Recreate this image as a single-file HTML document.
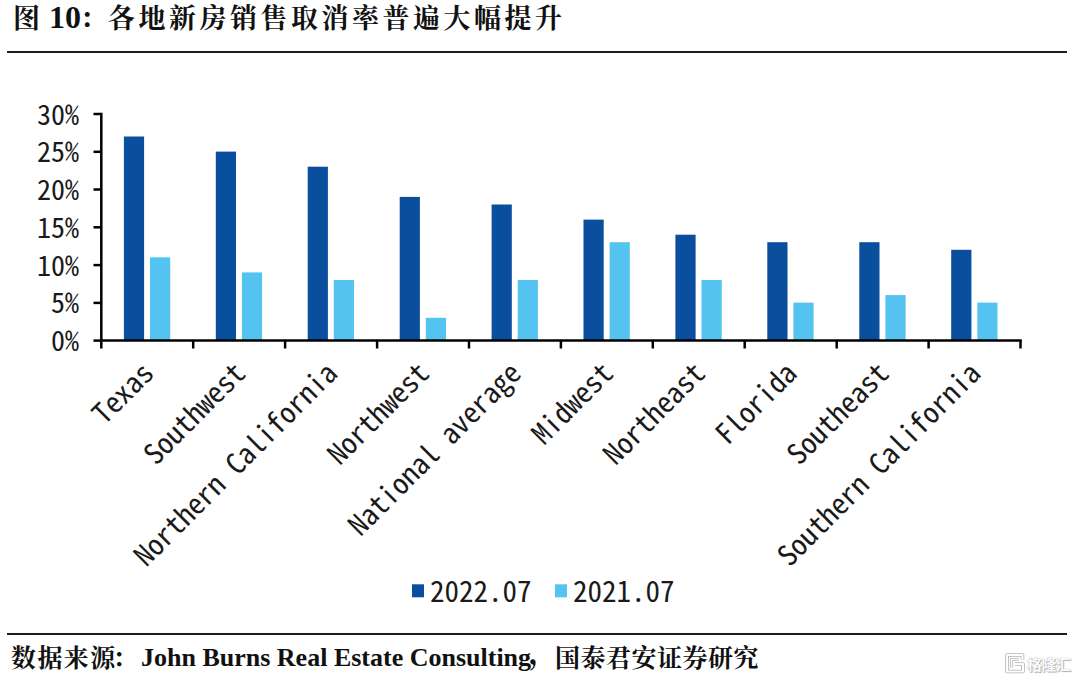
<!DOCTYPE html>
<html><head><meta charset="utf-8"><style>
html,body{margin:0;padding:0;background:#fff;}
body{width:1080px;height:680px;position:relative;overflow:hidden;}
.t{position:absolute;white-space:nowrap;color:#111;line-height:1;}
.cjk{font-family:"Noto Serif CJK SC",serif;font-weight:700;}
.lat{font-family:"Liberation Serif",serif;font-weight:bold;}
.rule{position:absolute;left:7px;width:1060px;height:2px;background:#1c1c1c;}
svg{position:absolute;left:0;top:0;}
.yl{font-size:28px;font-family:"Noto Sans Mono CJK SC","Liberation Mono",monospace;fill:#1a1a1a;}
.xl{font-size:28.7px;font-family:"Noto Sans Mono CJK SC","Liberation Mono",monospace;fill:#1a1a1a;}
.lg{font-size:29px;font-family:"Noto Sans Mono CJK SC","Liberation Mono",monospace;fill:#1a1a1a;}
.wm{position:absolute;left:1027px;top:655.5px;font:bold 15px/1 "Noto Sans CJK SC",sans-serif;color:#fdfdfd;text-shadow:0 0 1px #9a9a9a,1px 1px 1px #b0b0b0;white-space:nowrap;letter-spacing:-0.5px;}
.wmg{position:absolute;left:1004px;top:652px;}
</style></head><body>
<div class="t cjk" id="t1" style="left:13px;top:3px;font-size:27px;">图</div>
<div class="t lat" id="t2" style="left:49px;top:1px;font-size:32px;">10</div>
<div class="t cjk" id="t3" style="left:80px;top:3px;font-size:27px;">：</div>
<div class="t cjk" id="t4" style="left:108px;top:3px;font-size:27px;letter-spacing:3.5px;">各地新房销售取消率普遍大幅提升</div>
<div class="rule" style="top:51px"></div>
<svg width="1080" height="680" viewBox="0 0 1080 680">
<rect x="123.9" y="136.5" width="20.2" height="203.8" fill="#0A4E9E"/>
<rect x="150.0" y="257.3" width="20.2" height="83.0" fill="#55C3F0"/>
<rect x="215.8" y="151.6" width="20.2" height="188.8" fill="#0A4E9E"/>
<rect x="241.9" y="272.4" width="20.2" height="68.0" fill="#55C3F0"/>
<rect x="307.7" y="166.7" width="20.2" height="173.7" fill="#0A4E9E"/>
<rect x="333.8" y="280.0" width="20.2" height="60.4" fill="#55C3F0"/>
<rect x="399.7" y="196.9" width="20.2" height="143.4" fill="#0A4E9E"/>
<rect x="425.8" y="317.8" width="20.2" height="22.6" fill="#55C3F0"/>
<rect x="491.6" y="204.5" width="20.2" height="135.9" fill="#0A4E9E"/>
<rect x="517.7" y="280.0" width="20.2" height="60.4" fill="#55C3F0"/>
<rect x="583.5" y="219.6" width="20.2" height="120.8" fill="#0A4E9E"/>
<rect x="609.6" y="242.2" width="20.2" height="98.1" fill="#55C3F0"/>
<rect x="675.4" y="234.7" width="20.2" height="105.7" fill="#0A4E9E"/>
<rect x="701.5" y="280.0" width="20.2" height="60.4" fill="#55C3F0"/>
<rect x="767.3" y="242.2" width="20.2" height="98.1" fill="#0A4E9E"/>
<rect x="793.4" y="302.6" width="20.2" height="37.8" fill="#55C3F0"/>
<rect x="859.3" y="242.2" width="20.2" height="98.1" fill="#0A4E9E"/>
<rect x="885.4" y="295.1" width="20.2" height="45.3" fill="#55C3F0"/>
<rect x="951.2" y="249.8" width="20.2" height="90.6" fill="#0A4E9E"/>
<rect x="977.3" y="302.6" width="20.2" height="37.8" fill="#55C3F0"/>
<line x1="101.3" y1="112.8" x2="101.3" y2="348.5" stroke="#000" stroke-width="2.5"/>
<line x1="100" y1="340.6" x2="1021.7" y2="340.6" stroke="#000" stroke-width="2.5"/>
<line x1="93.5" y1="114.0" x2="101.3" y2="114.0" stroke="#000" stroke-width="2.5"/>
<line x1="93.5" y1="151.8" x2="101.3" y2="151.8" stroke="#000" stroke-width="2.5"/>
<line x1="93.5" y1="189.5" x2="101.3" y2="189.5" stroke="#000" stroke-width="2.5"/>
<line x1="93.5" y1="227.3" x2="101.3" y2="227.3" stroke="#000" stroke-width="2.5"/>
<line x1="93.5" y1="265.1" x2="101.3" y2="265.1" stroke="#000" stroke-width="2.5"/>
<line x1="93.5" y1="302.9" x2="101.3" y2="302.9" stroke="#000" stroke-width="2.5"/>
<line x1="93.5" y1="340.6" x2="101.3" y2="340.6" stroke="#000" stroke-width="2.5"/>
<line x1="193.2" y1="340" x2="193.2" y2="348.5" stroke="#000" stroke-width="2.5"/>
<line x1="285.1" y1="340" x2="285.1" y2="348.5" stroke="#000" stroke-width="2.5"/>
<line x1="377.1" y1="340" x2="377.1" y2="348.5" stroke="#000" stroke-width="2.5"/>
<line x1="469.0" y1="340" x2="469.0" y2="348.5" stroke="#000" stroke-width="2.5"/>
<line x1="560.9" y1="340" x2="560.9" y2="348.5" stroke="#000" stroke-width="2.5"/>
<line x1="652.8" y1="340" x2="652.8" y2="348.5" stroke="#000" stroke-width="2.5"/>
<line x1="744.7" y1="340" x2="744.7" y2="348.5" stroke="#000" stroke-width="2.5"/>
<line x1="836.7" y1="340" x2="836.7" y2="348.5" stroke="#000" stroke-width="2.5"/>
<line x1="928.6" y1="340" x2="928.6" y2="348.5" stroke="#000" stroke-width="2.5"/>
<line x1="1020.5" y1="340" x2="1020.5" y2="348.5" stroke="#000" stroke-width="2.5"/>
<text x="79" y="124.5" text-anchor="end" class="yl" textLength="42.00">30%</text>
<text x="79" y="162.3" text-anchor="end" class="yl" textLength="42.00">25%</text>
<text x="79" y="200.0" text-anchor="end" class="yl" textLength="42.00">20%</text>
<text x="79" y="237.8" text-anchor="end" class="yl" textLength="42.00">15%</text>
<text x="79" y="275.6" text-anchor="end" class="yl" textLength="42.00">10%</text>
<text x="79" y="313.4" text-anchor="end" class="yl" textLength="28.00">5%</text>
<text x="79" y="351.1" text-anchor="end" class="yl" textLength="28.00">0%</text>
<text transform="translate(155.3,375) rotate(-45)" text-anchor="end" class="xl" textLength="71.75">Texas</text>
<text transform="translate(247.2,375) rotate(-45)" text-anchor="end" class="xl" textLength="129.15">Southwest</text>
<text transform="translate(339.1,375) rotate(-45)" text-anchor="end" class="xl" textLength="272.65">Northern California</text>
<text transform="translate(431.0,375) rotate(-45)" text-anchor="end" class="xl" textLength="129.15">Northwest</text>
<text transform="translate(522.9,375) rotate(-45)" text-anchor="end" class="xl" textLength="229.60">National average</text>
<text transform="translate(614.9,375) rotate(-45)" text-anchor="end" class="xl" textLength="100.45">Midwest</text>
<text transform="translate(706.8,375) rotate(-45)" text-anchor="end" class="xl" textLength="129.15">Northeast</text>
<text transform="translate(798.7,375) rotate(-45)" text-anchor="end" class="xl" textLength="100.45">Florida</text>
<text transform="translate(890.6,375) rotate(-45)" text-anchor="end" class="xl" textLength="129.15">Southeast</text>
<text transform="translate(982.5,375) rotate(-45)" text-anchor="end" class="xl" textLength="272.65">Southern California</text>
<rect x="412" y="584.3" width="12" height="13" fill="#0A4E9E"/>
<text x="430" y="602" class="lg" textLength="101.50">2022.07</text>
<rect x="555" y="584.3" width="12" height="13" fill="#55C3F0"/>
<text x="573" y="602" class="lg" textLength="101.50">2021.07</text>
</svg>
<div class="rule" style="top:633px"></div>
<div class="t cjk" id="f1" style="left:11px;top:644px;font-size:25px;letter-spacing:1.4px;">数据来源</div>
<div class="t cjk" id="f1b" style="left:112.5px;top:644px;font-size:25px;">：</div>
<div class="t lat" id="f2" style="left:141px;top:645px;font-size:26px;">John Burns Real Estate Consulting</div>
<div class="t cjk" id="f3" style="left:528.5px;top:635px;font-size:30px;">，</div>
<div class="t cjk" id="f4" style="left:555px;top:644px;font-size:25px;letter-spacing:0.5px;">国泰君安证券研究</div>
<svg class="wmg" width="22" height="22" viewBox="0 0 22 22"><g fill="none" stroke-linejoin="round"><path d="M18.5 8 V3 H3 V19.5 H19 V12 H11" stroke="#b4b4b4" stroke-width="3.6"/><path d="M18.5 8 V3 H3 V19.5 H19 V12 H11" stroke="#fdfdfd" stroke-width="2"/><path d="M7.5 15.5 V7.5 H14.5" stroke="#b4b4b4" stroke-width="3.2"/><path d="M7.5 15.5 V7.5 H14.5" stroke="#fdfdfd" stroke-width="1.6"/></g></svg>
<div class="wm">格隆汇</div>
</body></html>
